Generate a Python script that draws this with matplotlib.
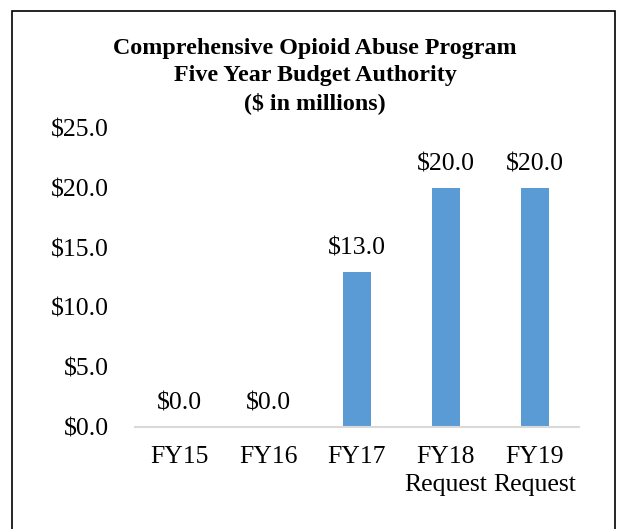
import matplotlib
matplotlib.use("Agg")
import matplotlib.pyplot as plt
from matplotlib.patches import Rectangle

categories = ["FY15", "FY16", "FY17", "FY18\nRequest", "FY19\nRequest"]
values = [0.0, 0.0, 13.0, 20.0, 20.0]
yticks = [0, 5, 10, 15, 20, 25]

plt.rcParams['font.family'] = ['Liberation Serif', 'DejaVu Serif']

W, H = 620, 529
FS = 18.5
fig = plt.figure(figsize=(W/100, H/100), dpi=100)
ax = fig.add_axes([135/W, 1-427/H, (579-135)/W, (427-128)/H])

x = list(range(len(categories)))
ax.bar(x, values, width=0.315, color="#5B9BD5", zorder=2)
ax.set_xlim(-0.5, len(categories)-0.5)
ax.set_ylim(0, 25)
ax.set_yticks(yticks)
ax.set_yticklabels([f"${v:.1f}" for v in yticks], fontsize=FS)
ax.set_xticks(x)
ax.set_xticklabels(categories, fontsize=FS, linespacing=1.3)
ax.tick_params(axis='both', length=0)
ax.tick_params(axis='y', pad=19)
ax.tick_params(axis='x', pad=14)
for s in ['left', 'right', 'top']:
    ax.spines[s].set_visible(False)
ax.spines['bottom'].set_color('#D9D9D9')
ax.spines['bottom'].set_linewidth(1.5)

for xi, v in zip(x, values):
    ax.annotate(f"${v:.1f}", (xi, v), xytext=(0, 12.5), textcoords='offset points',
                ha='center', va='baseline', fontsize=FS)

fig.text(315/W, 1-76/H, "Comprehensive Opioid Abuse Program\nFive Year Budget Authority\n($ in millions)",
         ha='center', va='center', fontsize=17.3, fontweight='bold', linespacing=1.35)

fig.patches.append(Rectangle((12/W, -0.05), (615-12)/W, (1-11/H)+0.05, transform=fig.transFigure,
                             fill=False, edgecolor='black', linewidth=1.2))

fig.savefig("out.png", dpi=100)
